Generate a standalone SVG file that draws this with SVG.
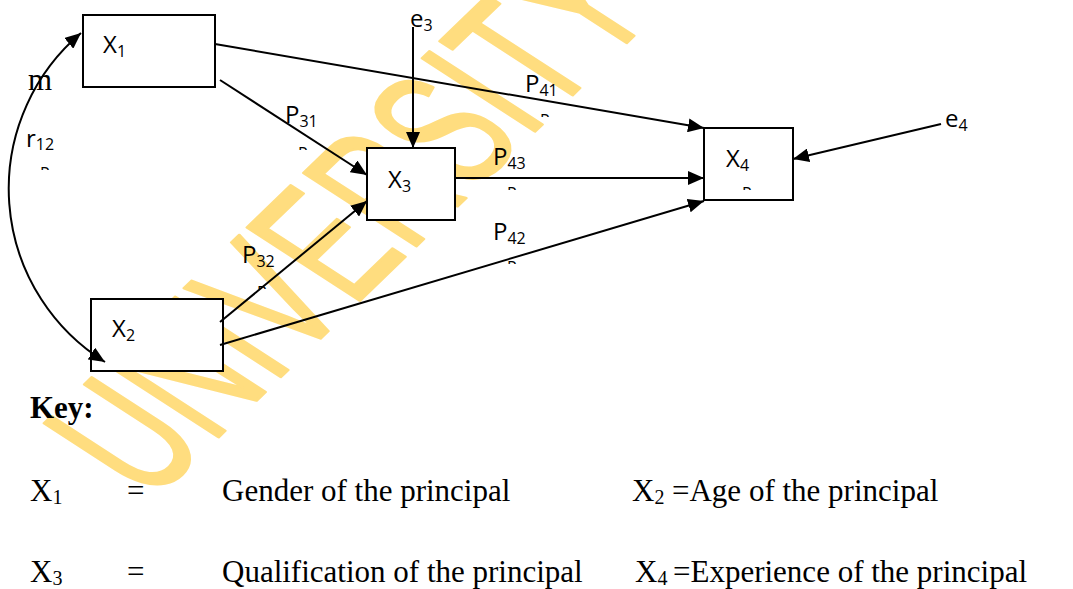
<svg xmlns="http://www.w3.org/2000/svg" width="1073" height="589" viewBox="0 0 1073 589">
  <style>
    .box { fill: #ffffff; stroke: #000000; stroke-width: 2; }
    .wire { fill: none; stroke: #000000; stroke-width: 2; }
    .lbl { font-family: "Open Sans", "Liberation Sans", sans-serif; font-size: 24px; fill: #000000; }
    .sub { font-size: 16px; }
    .key { font-family: "Liberation Serif", "Times New Roman", serif; font-size: 31px; fill: #000000; }
    .ksub { font-size: 20px; }
    .frag { font-family: "Open Sans", "Liberation Sans", sans-serif; font-size: 16px; fill: #000000; }
    .wm { font-family: "Liberation Sans", Arial, sans-serif; font-size: 190px; fill: #FFDD7F; stroke: #FFDD7F; stroke-width: 3; stroke-linejoin: round; }
  </style>
  <defs>
    <marker id="arrow" markerUnits="userSpaceOnUse" markerWidth="16" markerHeight="14" refX="16" refY="7" orient="auto-start-reverse">
      <path d="M0,0 L16,7 L0,14 z" fill="#000000"/>
    </marker>
    <!-- keeps only the top strip of a clipped glyph -->
    <clipPath id="cut" clipPathUnits="userSpaceOnUse">
      <rect x="-2" y="-1" width="16" height="4"/>
    </clipPath>
  </defs>

  <rect width="1073" height="589" fill="#ffffff"/>

  <!-- watermark -->
  <g id="watermark">
    <text class="wm" transform="translate(150,503) rotate(-44) skewX(13) scale(0.62,1)">UNIVERSITY</text>
  </g>

  <!-- nodes -->
  <g id="node-x1">
    <rect class="box" x="83" y="15" width="132" height="72"/>
    <text class="lbl" x="103" y="53">X<tspan class="sub" dy="4">1</tspan></text>
  </g>
  <g id="node-x2">
    <rect class="box" x="91" y="299" width="132" height="72"/>
    <text class="lbl" x="112" y="337">X<tspan class="sub" dy="4">2</tspan></text>
  </g>
  <g id="node-x3">
    <rect class="box" x="367" y="148" width="88" height="72"/>
    <text class="lbl" x="388" y="188">X<tspan class="sub" dy="4">3</tspan></text>
  </g>
  <g id="node-x4">
    <rect class="box" x="704" y="128" width="89" height="72"/>
    <text class="lbl" x="726" y="167">X<tspan class="sub" dy="4">4</tspan></text>
  </g>
  <g id="node-e3">
    <text class="lbl" x="410" y="27">e<tspan class="sub" dy="4">3</tspan></text>
  </g>
  <g id="node-e4">
    <text class="lbl" x="945" y="127">e<tspan class="sub" dy="4">4</tspan></text>
  </g>

  <!-- connectors -->
  <g id="connectors">
    <path class="wire" d="M81,33 A204,204 0 0 0 105,362" marker-start="url(#arrow)" marker-end="url(#arrow)"/>
    <line class="wire" x1="215" y1="44" x2="704" y2="128" marker-end="url(#arrow)"/>
    <line class="wire" x1="220" y1="80" x2="367" y2="175" marker-end="url(#arrow)"/>
    <line class="wire" x1="413" y1="27" x2="413" y2="148" marker-end="url(#arrow)"/>
    <line class="wire" x1="455" y1="178" x2="704" y2="178" marker-end="url(#arrow)"/>
    <line class="wire" x1="220" y1="322" x2="367" y2="201" marker-end="url(#arrow)"/>
    <line class="wire" x1="220" y1="345" x2="704" y2="201" marker-end="url(#arrow)"/>
    <line class="wire" x1="941" y1="124" x2="793" y2="159" marker-end="url(#arrow)"/>
  </g>

  <!-- path labels -->
  <g id="path-labels">
    <text class="key" x="28" y="90">m</text>
    <text class="lbl" x="26" y="147">r<tspan class="sub" dy="3">12</tspan></text>
    <text class="lbl" x="285" y="123">P<tspan class="sub" dy="4">31</tspan></text>
    <text class="lbl" x="525" y="92">P<tspan class="sub" dy="4">41</tspan></text>
    <text class="lbl" x="493" y="165">P<tspan class="sub" dy="4">43</tspan></text>
    <text class="lbl" x="493" y="240">P<tspan class="sub" dy="4">42</tspan></text>
    <text class="lbl" x="242" y="263">P<tspan class="sub" dy="4">32</tspan></text>
  </g>

  <!-- cut-off glyph tops under the labels -->
  <g id="label-stubs">
    <g transform="translate(40,167)" clip-path="url(#cut)"><text class="frag" x="0" y="11.5">P</text></g>
    <g transform="translate(298,147)" clip-path="url(#cut)"><text class="frag" x="0" y="11.5">P</text></g>
    <g transform="translate(540,114)" clip-path="url(#cut)"><text class="frag" x="0" y="11.5">P</text></g>
    <g transform="translate(507,187)" clip-path="url(#cut)"><text class="frag" x="0" y="11.5">P</text></g>
    <g transform="translate(507,261)" clip-path="url(#cut)"><text class="frag" x="0" y="11.5">P</text></g>
    <g transform="translate(257,286)" clip-path="url(#cut)"><text class="frag" x="0" y="11.5">P</text></g>
    <g transform="translate(742,187)" clip-path="url(#cut)"><text class="frag" x="0" y="11.5">P</text></g>
  </g>

  <!-- key -->
  <g id="key">
    <text class="key" x="30" y="418" font-weight="bold">Key:</text>
    <text class="key" x="30" y="501">X<tspan class="ksub" dy="3">1</tspan></text>
    <text class="key" x="127" y="501">=</text>
    <text class="key" x="222" y="501">Gender of the principal</text>
    <text class="key" x="632" y="501">X<tspan class="ksub" dy="3">2</tspan></text>
    <text class="key" x="672" y="501">=Age of the principal</text>
    <text class="key" x="30" y="582">X<tspan class="ksub" dy="3">3</tspan></text>
    <text class="key" x="127" y="582">=</text>
    <text class="key" x="222" y="582">Qualification of the principal</text>
    <text class="key" x="635" y="582">X<tspan class="ksub" dy="3">4</tspan></text>
    <text class="key" x="673" y="582">=Experience of the principal</text>
  </g>
</svg>
